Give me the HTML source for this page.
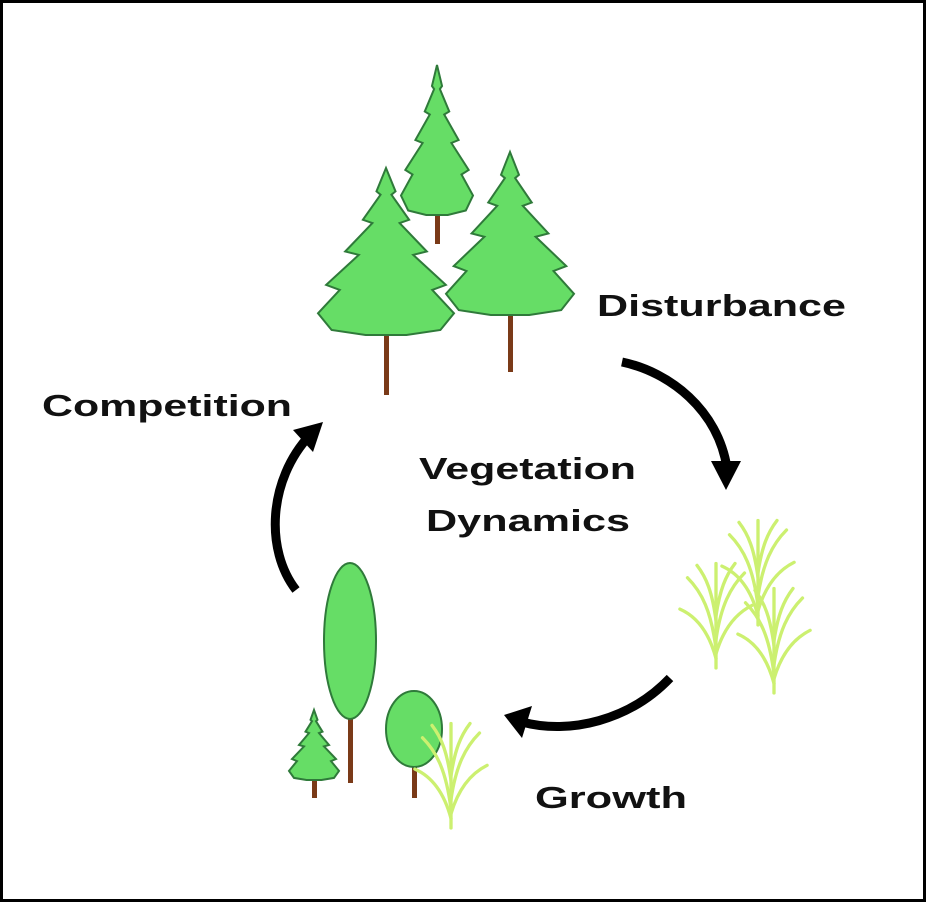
<!DOCTYPE html>
<html><head><meta charset="utf-8"><style>
html,body{margin:0;padding:0;background:#fff;}
svg{display:block}
text{font-family:"Liberation Sans",Arial,sans-serif;font-weight:bold;fill:#111}
</style></head><body>
<svg width="926" height="902" viewBox="0 0 926 902" xmlns="http://www.w3.org/2000/svg">
<defs>
<path id="pine" d="M0,0 L0.07,0.14 L0.04,0.16 L0.17,0.31 L0.1,0.33 L0.3,0.5 L0.2,0.52 L0.44,0.7 L0.34,0.73 L0.5,0.87 L0.4,0.97 L0.15,1 L-0.15,1 L-0.4,0.97 L-0.5,0.87 L-0.34,0.73 L-0.44,0.7 L-0.2,0.52 L-0.3,0.5 L-0.1,0.33 L-0.17,0.31 L-0.04,0.16 L-0.07,0.14 Z" fill="#66dd66" stroke="#2f7a3a" stroke-width="2" vector-effect="non-scaling-stroke"/>
<g id="grass" fill="none" stroke="#ccf070" stroke-width="3.5" stroke-linecap="round">
<path d="M0,0 L0,-110"/>
<path d="M0,-20 C-5,-60 -15,-80 -30,-95"/>
<path d="M0,-30 C5,-65 15,-85 30,-100"/>
<path d="M0,-50 C-4,-80 -10,-95 -20,-108"/>
<path d="M0,-55 C4,-82 10,-97 20,-110"/>
<path d="M0,-10 C-8,-40 -22,-55 -38,-62"/>
<path d="M0,-15 C8,-42 22,-58 38,-66"/>
</g>
</defs>
<rect x="1.5" y="1.5" width="923" height="899" fill="#fff" stroke="#000" stroke-width="3"/>

<rect x="384" y="330" width="5" height="65" fill="#7a3a18"/>
<rect x="435" y="210" width="5" height="34" fill="#7a3a18"/>
<rect x="508" y="310" width="5" height="62" fill="#7a3a18"/>
<use href="#pine" transform="translate(437,65) scale(72,150)"/>
<use href="#pine" transform="translate(386,168) scale(136,167)"/>
<use href="#pine" transform="translate(510,152) scale(128,163)"/>

<rect x="348" y="715" width="5" height="68" fill="#7a3a18"/>
<rect x="412" y="765" width="5" height="33" fill="#7a3a18"/>
<rect x="312" y="776" width="5" height="22" fill="#7a3a18"/>
<ellipse cx="350" cy="641" rx="26" ry="78" fill="#66dd66" stroke="#2f7a3a" stroke-width="2"/>
<ellipse cx="414" cy="729" rx="28" ry="38" fill="#66dd66" stroke="#2f7a3a" stroke-width="2"/>
<use href="#pine" transform="translate(314,710) scale(50,70)"/>
<use href="#grass" transform="translate(451,828) scale(0.95)"/>

<use href="#grass" transform="translate(716,668) scale(0.95)"/>
<use href="#grass" transform="translate(758,625) scale(0.95)"/>
<use href="#grass" transform="translate(774,693) scale(0.95)"/>

<g fill="none" stroke="#000" stroke-width="9">
<path d="M622,362 C670,372 718,410 727,468"/>
<path d="M296,590 C265,550 268,480 310,435"/>
<path d="M670,678 C630,720 570,735 522,722"/>
</g>
<polygon points="726,490 711,461 741,461" fill="#000"/>
<polygon points="323,422 293,430 313,452" fill="#000"/>
<polygon points="504,715 532,706 522,738" fill="#000"/>

<text x="597" y="316" font-size="31" textLength="249" lengthAdjust="spacingAndGlyphs">Disturbance</text>
<text x="42" y="416" font-size="31" textLength="250" lengthAdjust="spacingAndGlyphs">Competition</text>
<text x="419" y="479" font-size="31" textLength="217" lengthAdjust="spacingAndGlyphs">Vegetation</text>
<text x="426" y="531" font-size="31" textLength="204" lengthAdjust="spacingAndGlyphs">Dynamics</text>
<text x="535" y="808" font-size="31" textLength="152" lengthAdjust="spacingAndGlyphs">Growth</text>
</svg>
</body></html>
